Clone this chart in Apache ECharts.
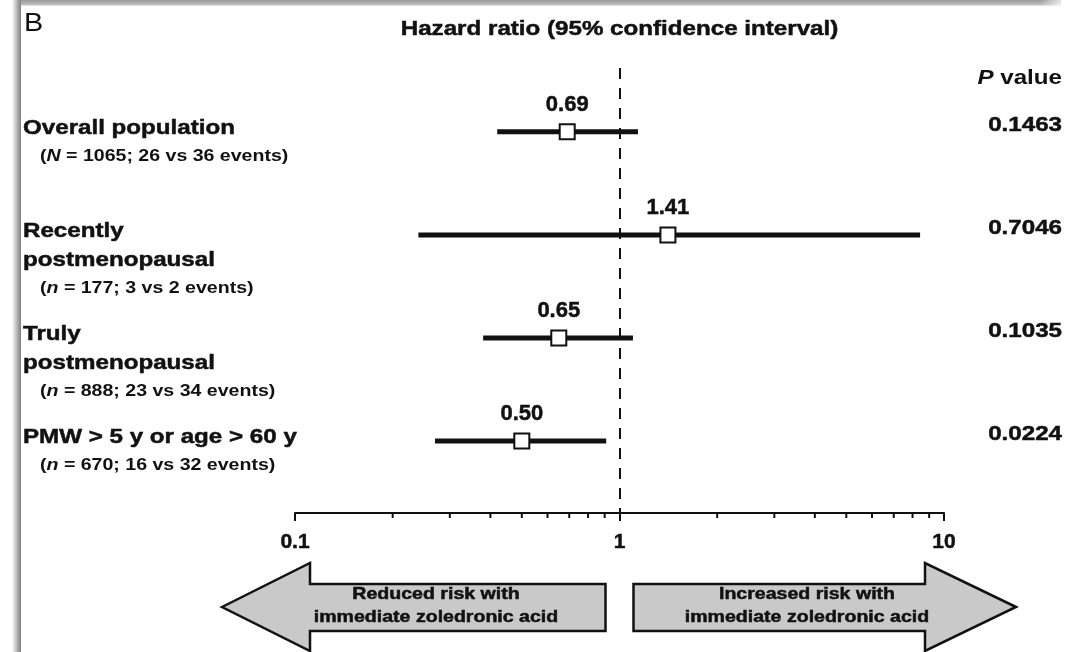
<!DOCTYPE html>
<html><head><meta charset="utf-8">
<script src="https://cdn.jsdelivr.net/npm/echarts@6/dist/echarts.min.js"></script>
<style>html,body{margin:0;padding:0;background:#fff}#c{width:1069px;height:652px}</style>
</head><body><div id="c"></div>
<script>
// ---- data ----
const rowTitles = [["Overall population"], ["Recently", "postmenopausal"], ["Truly", "postmenopausal"], ["PMW > 5 y or age > 60 y"]];
const rowSubVar = ["N", "n", "n", "n"];
const rowSubText = [" = 1065; 26 vs 36 events)", " = 177; 3 vs 2 events)", " = 888; 23 vs 34 events)", " = 670; 16 vs 32 events)"];
const hazardRatios = [0.69, 1.41, 0.65, 0.50];
const ciLower = [0.42, 0.24, 0.38, 0.27];
const ciUpper = [1.14, 8.44, 1.10, 0.91];
const pValues = ["0.1463", "0.7046", "0.1035", "0.0224"];
const tickLabels = ["0.1", "1", "10"];
const minorTickValues = [0.2, 0.3, 0.4, 0.5, 0.6, 0.7, 0.8, 0.9, 2, 3, 4, 5, 6, 7, 8, 9];
const titleText = "Hazard ratio (95% confidence interval)";
const panelLetter = "B";
const arrowLeftText = ["Reduced risk with", "immediate zoledronic acid"];
const arrowRightText = ["Increased risk with", "immediate zoledronic acid"];

// ---- chart ----
const FF = "'Liberation Sans', Arial, Helvetica, sans-serif";
const INK = '#111';
const SX = 1.15;
const BOLDEN = 0.5;
const chart = echarts.init(document.getElementById('c'), null, {renderer: 'canvas'});
const rows = hazardRatios.map((_, i) => i);

const option = {
  animation: false,
  backgroundColor: '#fff',
  grid: {left: 295, right: 125, top: 68, bottom: 139},
  xAxis: {
    type: 'log', logBase: 10, min: 0.1, max: 10,
    axisLine: {onZero: false, lineStyle: {color: INK, width: 2}},
    axisTick: {show: true, length: 8, lineStyle: {color: INK, width: 2}},
    axisLabel: {margin: 19, fontSize: 21, fontWeight: 'bold', fontFamily: FF, color: INK,
      textBorderColor: INK, textBorderWidth: BOLDEN,
      formatter: v => tickLabels[Math.round(Math.log10(v)) + 1]},
    splitLine: {show: false}
  },
  yAxis: {type: 'value', inverse: true, min: -0.62, max: 3.7, show: false},
  series: [
    {
      type: 'custom', name: 'CI', z: 3,
      data: rows.map(i => [ciLower[i], ciUpper[i], i]),
      encode: {x: [0, 1], y: 2},
      renderItem(params, api) {
        const a = api.coord([api.value(0), api.value(2)]);
        const b = api.coord([api.value(1), api.value(2)]);
        return {type: 'line', shape: {x1: a[0], y1: a[1], x2: b[0], y2: b[1]},
          style: {stroke: INK, lineWidth: 5}};
      }
    },
    {
      type: 'custom', name: 'minor', clip: false, silent: true,
      data: minorTickValues.map(v => [v, 0]),
      encode: {x: 0, y: 1},
      renderItem(params, api) {
        const p = api.coord([api.value(0), 0]);
        const y0 = params.coordSys.y + params.coordSys.height;
        return {type: 'line', shape: {x1: p[0], y1: y0, x2: p[0], y2: y0 + 5},
          style: {stroke: INK, lineWidth: 2}};
      }
    },
    {
      type: 'scatter', name: 'HR', z: 5,
      data: rows.map(i => [hazardRatios[i], i]),
      symbol: 'rect', symbolSize: 15,
      itemStyle: {color: '#fff', borderColor: INK, borderWidth: 2, opacity: 1},
      label: {show: true, position: 'top', distance: 7, fontSize: 22, fontWeight: 'bold',
        fontFamily: FF, color: INK, textBorderColor: INK, textBorderWidth: BOLDEN,
        formatter: p => p.value[0].toFixed(2)},
      markLine: {
        silent: true, symbol: 'none', animation: false,
        label: {show: false},
        lineStyle: {color: INK, type: [11, 9], width: 2},
        data: [{xAxis: 1}]
      }
    }
  ]
};
chart.setOption(option);

// ---- text & decorations placed through the chart's scales ----
const rowPx = rows.map(i => chart.convertToPixel({yAxisIndex: 0}, i));
const xOne = chart.convertToPixel({xAxisIndex: 0}, 1);
const xTen = chart.convertToPixel({xAxisIndex: 0}, 10);
const xTenth = chart.convertToPixel({xAxisIndex: 0}, 0.1);

function txt(text, x, y, size, align, opts) {
  opts = opts || {};
  const bold = (opts.weight || 'bold') === 'bold';
  return {
    type: 'text', x: x, y: y, scaleX: SX, z: 100,
    style: Object.assign({
      text: text, fill: INK,
      stroke: bold ? INK : null, lineWidth: bold ? BOLDEN : 0,
      fontSize: size, fontWeight: opts.weight || 'bold', fontFamily: FF,
      fontStyle: opts.italic ? 'italic' : 'normal',
      textAlign: align, align: align,
      textVerticalAlign: 'middle', verticalAlign: 'middle'
    }, opts.extra || {})
  };
}
function richStyle(size, italic) {
  return {fontSize: size, fontWeight: 'bold', fontStyle: italic ? 'italic' : 'normal', fontFamily: FF, fill: INK};
}

const g = [];
// page frame shadow
g.push({type: 'rect', z: 1, shape: {x: 12, y: 0, width: 9, height: 652},
  style: {fill: {type: 'linear', x: 0, y: 0, x2: 1, y2: 0,
    colorStops: [{offset: 0, color: '#ffffff'}, {offset: 0.6, color: '#b0b0b0'}, {offset: 1, color: '#7e7e7e'}]}}});
g.push({type: 'rect', z: 1, shape: {x: 21, y: 0, width: 1040, height: 6},
  style: {fill: {type: 'linear', x: 0, y: 0, x2: 0, y2: 1,
    colorStops: [{offset: 0, color: '#9a9a9a'}, {offset: 0.7, color: '#b8b8b8'}, {offset: 1, color: '#e6e6e6'}]}}});
g.push({type: 'rect', z: 1, shape: {x: 1040, y: 0, width: 29, height: 7},
  style: {fill: {type: 'linear', x: 0, y: 0, x2: 1, y2: 0,
    colorStops: [{offset: 0, color: 'rgba(255,255,255,0)'}, {offset: 1, color: '#ffffff'}]}}});

// panel letter & title
g.push(txt(panelLetter, 24, 24, 25, 'left', {weight: 'normal'}));
g.push(txt(titleText, xOne, 29, 21, 'center'));
// P value header
g.push({
  type: 'text', x: 1062, y: 78, scaleX: SX, z: 100,
  style: {
    text: '{i|P} {b|value}', textAlign: 'right', align: 'right',
    textVerticalAlign: 'middle', verticalAlign: 'middle',
    fill: INK, fontSize: 21, fontWeight: 'bold', fontFamily: FF,
    rich: {i: richStyle(21, true), b: richStyle(21, false)}
  }
});

rows.forEach(i => {
  const y0 = rowPx[i] - 4;
  rowTitles[i].forEach((line, k) => g.push(txt(line, 23, y0 + k * 29, 21, 'left')));
  const ys = y0 + (rowTitles[i].length - 1) * 29 + 28;
  g.push({
    type: 'text', x: 40, y: ys, scaleX: SX, z: 100,
    style: {
      text: '{p|(}{i|' + rowSubVar[i] + '}{p|' + rowSubText[i] + '}',
      textAlign: 'left', align: 'left', textVerticalAlign: 'middle', verticalAlign: 'middle',
      fill: INK, fontSize: 17, fontWeight: 'bold', fontFamily: FF,
      rich: {i: richStyle(17, true), p: richStyle(17, false)}
    }
  });
  g.push(txt(pValues[i], 1062, rowPx[i] - 7, 21, 'right'));
});

// direction arrows
const aTop = 563, aBodyTop = 584, aBodyBot = 631, aBot = 651, aMid = 607;
const leftTip = xTenth - 73, leftNeck = xTenth + 15, leftEnd = xOne - 14;
const rightStart = xOne + 14, rightNeck = xTen - 19, rightTip = xTen + 72;
const arrowStyle = {fill: '#c9c9c9', stroke: INK, lineWidth: 2.5, lineJoin: 'miter'};
g.push({type: 'polygon', z: 50, shape: {points: [
  [leftTip, aMid], [leftNeck, aTop], [leftNeck, aBodyTop], [leftEnd, aBodyTop],
  [leftEnd, aBodyBot], [leftNeck, aBodyBot], [leftNeck, aBot]]}, style: arrowStyle});
g.push({type: 'polygon', z: 50, shape: {points: [
  [rightTip, aMid], [rightNeck, aTop], [rightNeck, aBodyTop], [rightStart, aBodyTop],
  [rightStart, aBodyBot], [rightNeck, aBodyBot], [rightNeck, aBot]]}, style: arrowStyle});
arrowLeftText.forEach((t, k) => g.push(txt(t, 436, 594 + k * 23, 17, 'center')));
arrowRightText.forEach((t, k) => g.push(txt(t, 807, 594 + k * 23, 17, 'center')));

chart.setOption({graphic: {elements: g}});
</script>
</body></html>
